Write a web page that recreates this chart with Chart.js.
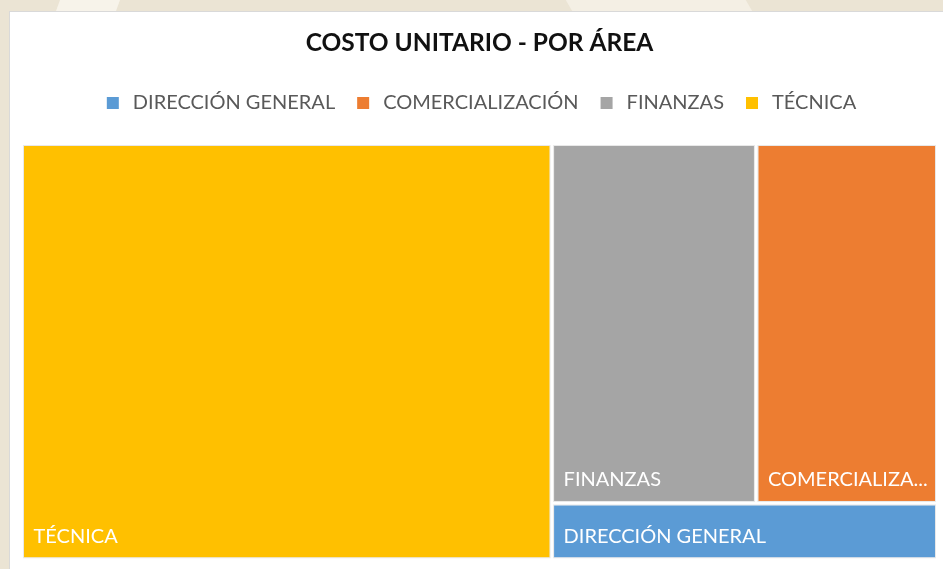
<!DOCTYPE html>
<html><head><meta charset="utf-8">
<script src="https://cdn.jsdelivr.net/npm/chart.js@4.4.1/dist/chart.umd.min.js"></script>
<style>
html,body{margin:0;padding:0;width:943px;height:569px;overflow:hidden;background:#ebe4d4;}
#bg1{position:absolute;left:60px;top:-40px;width:60px;height:80px;background:#f7f3ea;transform:skewX(-20deg);}
#bg2{position:absolute;left:560px;top:-40px;width:180px;height:60px;background:#f4efe4;transform:skewX(30deg);}
#box{position:absolute;left:9px;top:11px;width:960px;height:600px;background:#fff;border:1px solid #d9d9d9;box-sizing:border-box;}
#wrap{position:absolute;left:0;top:0;width:943px;height:569px;}
</style></head><body>
<div id="bg1"></div><div id="bg2"></div>
<div id="box"></div>
<div id="wrap"><canvas id="c"></canvas></div>
<script>
// ---- data ----
const categories = ['DIRECCIÓN GENERAL', 'COMERCIALIZACIÓN', 'FINANZAS', 'TÉCNICA'];
const values = [5.7, 17.1, 19.3, 57.9];
const colors = ['#5B9BD5', '#ED7D31', '#A5A5A5', '#FFC000'];
const chartTitle = 'COSTO UNITARIO - POR ÁREA';

const FONT = 'Lato';

// squarified treemap layout (in pixel proportions of the plot area)
function squarify(items, W, H) {
  const total = items.reduce((s, d) => s + d.v, 0);
  const k = (W * H) / total;
  const nodes = items.map(d => Object.assign({}, d, {a: d.v * k}));
  const out = [];
  let x = 0, y = 0, w = W, h = H;
  function worst(row, side) {
    const s = row.reduce((t, d) => t + d.a, 0);
    let mx = -Infinity, mn = Infinity;
    row.forEach(d => { mx = Math.max(mx, d.a); mn = Math.min(mn, d.a); });
    return Math.max(side * side * mx / (s * s), (s * s) / (side * side * mn));
  }
  while (nodes.length) {
    const side = Math.min(w, h);
    const row = [nodes.shift()];
    while (nodes.length && worst(row.concat(nodes[0]), side) <= worst(row, side)) row.push(nodes.shift());
    const s = row.reduce((t, d) => t + d.a, 0);
    if (w >= h) {
      const cw = s / h; let cy = y;
      row.forEach(d => { const ch = d.a / cw; out.push(Object.assign({}, d, {x: x, y: cy, w: cw, h: ch})); cy += ch; });
      x += cw; w -= cw;
    } else {
      const rh = s / w; let cx = x;
      row.forEach(d => { const rw = d.a / rh; out.push(Object.assign({}, d, {x: cx, y: y, w: rw, h: rh})); cx += rw; });
      y += rh; h -= rh;
    }
  }
  return out;
}

function fitText(ctx, text, maxW) {
  if (ctx.measureText(text).width <= maxW) return text;
  let t = text;
  while (t.length > 1 && ctx.measureText(t + '...').width > maxW) t = t.slice(0, -1);
  return t + '...';
}

const treemapPlugin = {
  id: 'treemap',
  beforeLayout(chart) {
    const lg = chart.legend;
    if (lg && !lg._patched) {
      const f = lg.fit;
      lg.fit = function () { f.call(this); this.height += 20.75; };
      lg._patched = true;
    }
  },
  beforeDatasetsDraw(chart) {
    const {ctx, chartArea: a, scales: {x: xs, y: ys}} = chart;
    const W = a.right - a.left, H = a.bottom - a.top;
    const items = categories.map((c, i) => ({label: c, v: values[i], color: colors[i]}))
      .sort((p, q) => q.v - p.v);
    const cells = squarify(items, W, H).map(d => Object.assign({}, d, {
      x0: d.x / W * 100, x1: (d.x + d.w) / W * 100,
      y0: d.y / H * 100, y1: (d.y + d.h) / H * 100
    }));
    const g = 2.25;
    ctx.save();
    cells.forEach(d => {
      const L = xs.getPixelForValue(d.x0) + g, R = xs.getPixelForValue(d.x1) - g;
      const T = ys.getPixelForValue(d.y0) + g, B = ys.getPixelForValue(d.y1) - g;
      ctx.fillStyle = d.color;
      ctx.fillRect(L, T, R - L, B - T);
      ctx.strokeStyle = 'rgba(190,190,190,0.35)';
      ctx.lineWidth = 1;
      ctx.strokeRect(L - 0.5, T - 0.5, R - L + 1, B - T + 1);
      ctx.font = '20px ' + FONT;
      ctx.fillStyle = '#ffffff';
      ctx.textBaseline = 'alphabetic';
      ctx.textAlign = 'left';
      const pad = 9.5;
      if (B - T > 30) ctx.fillText(fitText(ctx, d.label, R - L - 12), L + pad, B - 14.5);
    });
    ctx.restore();
  }
};

new Chart(document.getElementById('c'), {
  type: 'scatter',
  data: {datasets: [{data: []}]},
  options: {
    responsive: true,
    maintainAspectRatio: false,
    animation: false,
    layout: {padding: {left: 21.75, right: 5.75, top: 0, bottom: 9.5}},
    scales: {
      x: {type: 'linear', min: 0, max: 100, display: false},
      y: {type: 'linear', min: 0, max: 100, reverse: true, display: false}
    },
    plugins: {
      tooltip: {enabled: false},
      title: {
        display: true, text: chartTitle, color: '#111111',
        font: {family: FONT, size: 24.5, weight: 'bold', lineHeight: 1.2},
        padding: {top: 28.3, bottom: 17.3}
      },
      legend: {
        display: true, position: 'top',
        labels: {
          usePointStyle: true, boxWidth: 20, boxHeight: 12, padding: 18,
          color: '#595959', font: {family: FONT, size: 20},
          generateLabels: () => categories.map((c, i) => ({
            text: c, fillStyle: colors[i], strokeStyle: colors[i], lineWidth: 0,
            pointStyle: 'rect', hidden: false, fontColor: '#595959', datasetIndex: 0
          }))
        }
      }
    }
  },
  plugins: [treemapPlugin]
});
</script>
</body></html>
